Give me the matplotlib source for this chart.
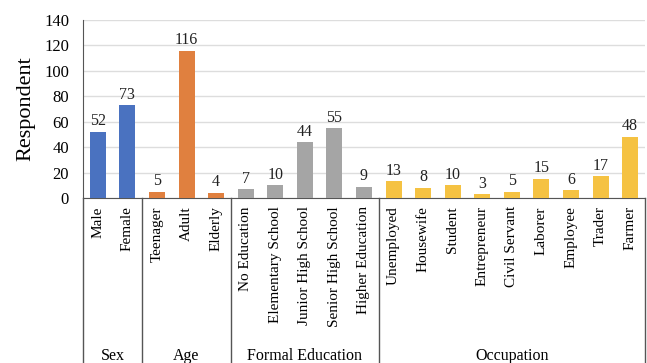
import matplotlib.pyplot as plt
import matplotlib.transforms as mtransforms

plt.rcParams['font.family'] = ['Liberation Serif', 'DejaVu Serif']

groups = ["Sex", "Age", "Formal Education", "Occupation"]
group_cats = [
    ["Male", "Female"],
    ["Teenager", "Adult", "Elderly"],
    ["No Education", "Elementary School", "Junior High School",
     "Senior High School", "Higher Education"],
    ["Unemployed", "Housewife", "Student", "Entrepreneur", "Civil Servant",
     "Laborer", "Employee", "Trader", "Farmer"],
]
group_vals = [
    [52, 73],
    [5, 116, 4],
    [7, 10, 44, 55, 9],
    [13, 8, 10, 3, 5, 15, 6, 17, 48],
]
group_colors = ["#4A72C0", "#E0803F", "#A5A5A5", "#F5C242"]

cats, vals, cols = [], [], []
for c, v, col in zip(group_cats, group_vals, group_colors):
    cats += c
    vals += v
    cols += [col] * len(c)
x = list(range(len(cats)))

fig = plt.figure(figsize=(6.47, 3.63), dpi=100)
ax = fig.add_axes([83 / 647, 1 - 198 / 363, 562 / 647, 178 / 363])

ax.bar(x, vals, width=0.54, color=cols, zorder=3)
for xi, v in zip(x, vals):
    ax.text(xi, v + 2, str(v), ha="center", va="bottom", fontsize=11.5, color="#222222")

ax.set_xlim(-0.5, len(cats) - 0.5)
ax.set_ylim(0, 140)
ax.set_yticks(range(0, 141, 20))
ax.yaxis.grid(True, color="#DDDDDD", linewidth=1, zorder=0)
ax.tick_params(axis="y", length=0, labelsize=12, pad=10)
ax.tick_params(axis="x", length=0, labelsize=11, pad=6)
ax.set_xticks(x)
ax.set_xticklabels(cats, rotation=90, va="top")
ax.set_ylabel("Respondent", fontsize=16, labelpad=6)

for s in ["top", "right"]:
    ax.spines[s].set_visible(False)
ax.spines["left"].set_color("#555555")
ax.spines["bottom"].set_color("#555555")

trans = mtransforms.blended_transform_factory(ax.transData, ax.transAxes)
bounds = [-0.5]
for c in group_cats:
    bounds.append(bounds[-1] + len(c))
for b in bounds:
    ax.plot([b, b], [0, -0.93], transform=trans, color="#555555",
            linewidth=1, clip_on=False)
for g, lo, hi in zip(groups, bounds[:-1], bounds[1:]):
    ax.text((lo + hi) / 2, -0.888, g, transform=trans, ha="center",
            va="center", fontsize=11.5)

fig.savefig("out.png", dpi=100)
